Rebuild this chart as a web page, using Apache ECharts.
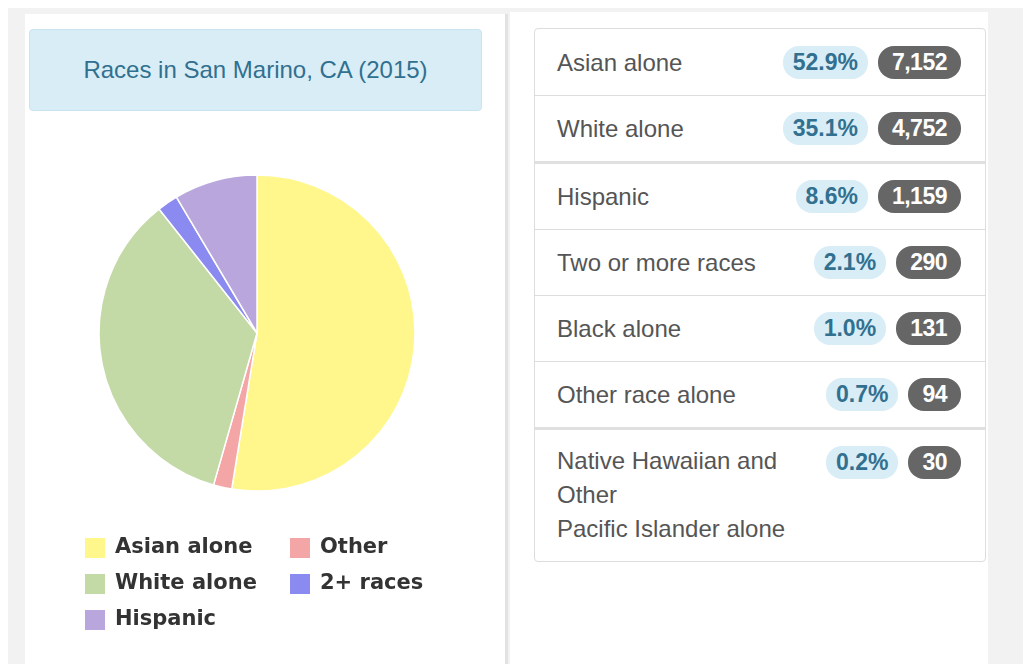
<!DOCTYPE html>
<html>
<head>
<meta charset="utf-8">
<script src="https://cdn.jsdelivr.net/npm/echarts@6/dist/echarts.min.js"></script>
<script>
    // pie slices (Other = Black + Other race + Native Hawaiian)
    var pieNames = ['Asian alone', 'Other', 'White alone', '2+ races', 'Hispanic'];
    var pieValues = [7152, 255, 4752, 290, 1159];
    var pieColors = ['#fff78c', '#f4a6a6', '#c3d9a6', '#8a8af0', '#b9a6dc'];
    var legendLeft = ['Asian alone', 'White alone', 'Hispanic'];
    var legendRight = ['Other', '2+ races'];

    // table on the right
    var rowLabels = ['Asian alone', 'White alone', 'Hispanic', 'Two or more races', 'Black alone',
        'Other race alone', 'Native Hawaiian and\nOther\nPacific Islander alone'];
    var rowPercents = ['52.9%', '35.1%', '8.6%', '2.1%', '1.0%', '0.7%', '0.2%'];
    var rowCounts = ['7,152', '4,752', '1,159', '290', '131', '94', '30'];
    var groupStarts = [2, 6];
</script>
<style>
    body { margin: 0; background: #fff; font-family: "Liberation Sans", Arial, sans-serif; }
    #frame { position: absolute; left: 8px; top: 8px; width: 1015px; height: 656px; background: #f2f2f2; }
    #leftPanel { position: absolute; left: 25px; top: 14px; width: 480px; height: 650px; background: #fff;
        border-right: 3px solid #e2e2e2; }
    #rightPanel { position: absolute; left: 510px; top: 12px; width: 478px; height: 652px; background: #fff; }
    #title { position: absolute; left: 29px; top: 29px; width: 451px; height: 80px; background: #d9edf7;
        border: 1px solid #c9e4f0; border-radius: 4px; color: #31708f; font-size: 24px; line-height: 80px;
        text-align: center; }
    #main { position: absolute; left: 0; top: 0; width: 505px; height: 664px; }
    #table { position: absolute; left: 534px; top: 28px; width: 450px; border: 1px solid #ddd; border-radius: 4px;
        background: #fff; }
    .row { display: flex; align-items: flex-start; justify-content: space-between; padding: 16px 24px 16px 22px;
        border-top: 1px solid #ddd; }
    .row:first-child { border-top: none; padding-top: 17px; }
    .row.group { border-top: 3px solid #e0e0e0; }
    .label { color: #555; font-size: 24px; line-height: 33px; white-space: pre-line; }
    .row.tall { padding-top: 14px; padding-bottom: 15px; }
    .row.tall .label { line-height: 34px; }
    .row.tall .badges { margin-top: 2px; }
    .badges { display: flex; white-space: nowrap; }
    .pct { background: #d9edf7; color: #31708f; font-weight: bold; font-size: 23px; height: 33px; line-height: 33px;
        padding: 0 10px; border-radius: 16px; }
    .cnt { background: #666; color: #fff; font-weight: bold; font-size: 23px; height: 33px; line-height: 33px;
        padding: 0 14px; border-radius: 16px; margin-left: 10px; letter-spacing: -0.5px; }
</style>
</head>
<body>
<div id="frame"></div>
<div id="leftPanel"></div>
<div id="rightPanel"></div>
<div id="title">Races in San Marino, CA (2015)</div>
<div id="main"></div>
<div id="table"></div>
<script type="text/javascript">
    var myChart = echarts.init(document.getElementById('main'));

    var pieData = [];
    for (var i = 0; i < pieNames.length; i++) {
        pieData.push({ name: pieNames[i], value: pieValues[i], itemStyle: { color: pieColors[i] } });
    }

    var legendText = {
        fontFamily: 'DejaVu Sans',
        fontWeight: 'bold',
        fontSize: 21,
        color: '#333',
        padding: [0, 0, 0, 4]
    };

    var option = {
        backgroundColor: 'transparent',
        animation: false,
        legend: [
            {
                data: legendLeft, orient: 'vertical', left: 78, top: 531,
                icon: 'rect', itemWidth: 22, itemHeight: 22, itemGap: 12,
                textStyle: legendText, selectedMode: false
            },
            {
                data: legendRight, orient: 'vertical', left: 283, top: 531,
                icon: 'rect', itemWidth: 22, itemHeight: 22, itemGap: 12,
                textStyle: legendText, selectedMode: false
            }
        ],
        series: [
            {
                type: 'pie',
                center: [257, 333],
                radius: 158,
                startAngle: 90,
                clockwise: true,
                label: { show: false },
                labelLine: { show: false },
                itemStyle: { borderColor: '#fff', borderWidth: 1.5 },
                data: pieData
            }
        ]
    };
    myChart.setOption(option);

    // build the list on the right from the arrays
    var table = document.getElementById('table');
    for (var r = 0; r < rowLabels.length; r++) {
        var row = document.createElement('div');
        row.className = 'row' + (groupStarts.indexOf(r) >= 0 ? ' group' : '') +
            (rowLabels[r].indexOf('\n') >= 0 ? ' tall' : '');
        var lab = document.createElement('div');
        lab.className = 'label';
        lab.textContent = rowLabels[r];
        var badges = document.createElement('div');
        badges.className = 'badges';
        var pct = document.createElement('span');
        pct.className = 'pct';
        pct.textContent = rowPercents[r];
        var cnt = document.createElement('span');
        cnt.className = 'cnt';
        cnt.textContent = rowCounts[r];
        badges.appendChild(pct);
        badges.appendChild(cnt);
        row.appendChild(lab);
        row.appendChild(badges);
        table.appendChild(row);
    }
</script>
</body>
</html>
